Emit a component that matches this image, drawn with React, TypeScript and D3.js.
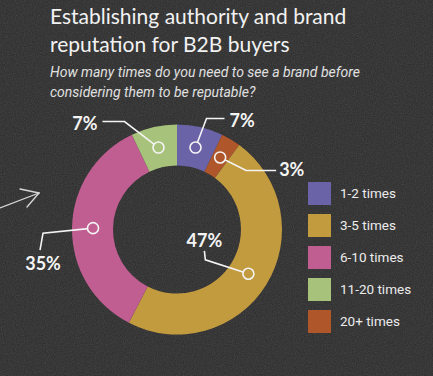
import React from "react";
import * as d3 from "d3";

const categories = ["1-2 times", "20+ times", "3-5 times", "6-10 times", "11-20 times"];
const values = [7, 3, 47, 35, 7];
const legendOrder = ["1-2 times", "3-5 times", "6-10 times", "11-20 times", "20+ times"];
const colors: Record<string, string> = {
  "1-2 times": "#6a63a8",
  "3-5 times": "#c39b3f",
  "6-10 times": "#c05d91",
  "11-20 times": "#a7c27b",
  "20+ times": "#b0562b",
};
const titleLines = ["Establishing authority and brand", "reputation for B2B buyers"];
const subtitleLines = [
  "How many times do you need to see a brand before",
  "considering them to be reputable?",
];

// leader line offsets relative to the marker circle (annotation layout)
const leaders: Record<string, { pts: [number, number][]; tx: number; ty: number; anchor: string }> = {
  "1-2 times": { pts: [[11, -29], [29, -29]], tx: 34, ty: -21, anchor: "start" },
  "20+ times": { pts: [[26, 13], [56, 13]], tx: 59, ty: 19, anchor: "start" },
  "3-5 times": { pts: [[-43, -14], [-44, -23]], tx: -44, ty: -27, anchor: "middle" },
  "6-10 times": { pts: [[-50, 5], [-53, 22]], tx: -50, ty: 42, anchor: "middle" },
  "11-20 times": { pts: [[-34, -26], [-56, -26]], tx: -61, ty: -18, anchor: "end" },
};

export default function App() {
  const W = 433, H = 376;
  const cx = 177, cy = 229.5, rO = 105, rI = 64;
  const pie = d3.pie<number>().sort(null).value((d) => d);
  const arcs = pie(values);
  const arc = d3.arc<d3.PieArcDatum<number>>().innerRadius(rI).outerRadius(rO);
  const mid = d3.arc<d3.PieArcDatum<number>>().innerRadius(84).outerRadius(84);
  const legendY = d3.scaleBand<string>().domain(legendOrder).range([181, 341]).paddingInner(0);

  return (
    <svg width={W} height={H} style={{ position: "absolute", left: 0, top: 0 }}>
      <defs>
        <filter id="grain" x="0" y="0" width="100%" height="100%">
          <feTurbulence type="fractalNoise" baseFrequency="0.9" numOctaves="2" seed="3" />
          <feColorMatrix type="saturate" values="0" />
          <feComponentTransfer>
            <feFuncA type="table" tableValues="0 0.18" />
          </feComponentTransfer>
        </filter>
      </defs>
      <rect width={W} height={H} fill="#2b2b2b" />
      <rect width={W} height={H} filter="url(#grain)" />

      {titleLines.map((t, i) => (
        <text key={t} x={50} y={24 + i * 28} fill="#f2f2f2" fontFamily="Lato, 'DejaVu Sans', sans-serif" fontSize={21} fontWeight={400}>
          {t}
        </text>
      ))}
      {subtitleLines.map((t, i) => (
        <text key={t} x={50} y={77 + i * 19.5} fill="#e0e0e0" fontFamily="Roboto, sans-serif" fontSize={14} fontStyle="italic">
          {t}
        </text>
      ))}

      {/* decorative arrow */}
      <g stroke="#d8d8d8" strokeWidth={1.3} fill="none" strokeLinecap="round">
        <line x1={0} y1={208} x2={39} y2={193} />
        <line x1={39} y1={193} x2={20} y2={189} />
        <line x1={39} y1={193} x2={27} y2={207} />
      </g>

      <g transform={`translate(${cx},${cy})`}>
        {arcs.map((a, i) => (
          <path key={categories[i]} d={arc(a) || ""} fill={colors[categories[i]]} />
        ))}
        {arcs.map((a, i) => {
          const [px, py] = mid.centroid(a);
          const L = leaders[categories[i]];
          const pts = [[px, py], ...L.pts.map(([dx, dy]) => [px + dx, py + dy])];
          return (
            <g key={"l" + i}>
              <polyline points={pts.map((p) => p.join(",")).join(" ")} fill="none" stroke="#f4f4f4" strokeWidth={1.6} />
              <circle cx={px} cy={py} r={5.5} fill={colors[categories[i]]} stroke="#f4f4f4" strokeWidth={1.6} />
              <text x={px + L.tx} y={py + L.ty} textAnchor={L.anchor} fill="#f4f4f4" fontFamily="Lato, sans-serif" fontWeight={700} fontSize={18}>
                {values[i]}%
              </text>
            </g>
          );
        })}
      </g>

      {legendOrder.map((c) => {
        const y = legendY(c)!;
        return (
          <g key={c}>
            <rect x={308} y={y + 1} width={23} height={23} fill={colors[c]} />
            <text x={340} y={y + 17} fill="#ececec" fontFamily="Roboto, sans-serif" fontSize={13.5}>
              {c}
            </text>
          </g>
        );
      })}
    </svg>
  );
}
